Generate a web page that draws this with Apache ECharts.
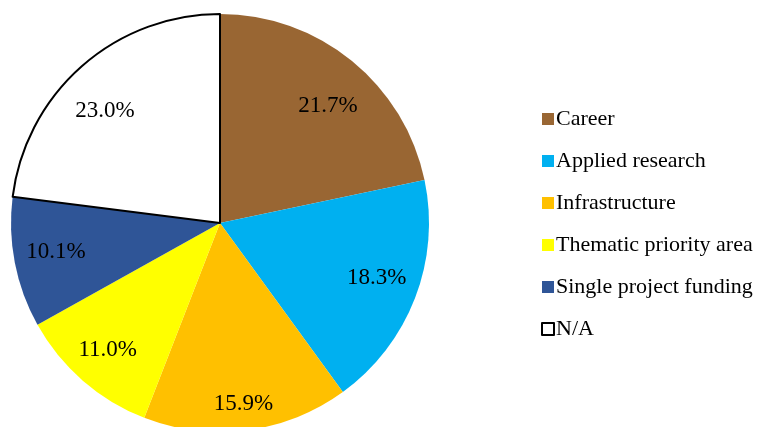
<!doctype html>
<html>
<head>
  <meta charset="utf-8">
  <script src="https://cdn.jsdelivr.net/npm/echarts@6/dist/echarts.min.js"></script>
  <style>
    html, body { margin: 0; width: 100%; height: 100%; background: #fff; }
    #main { width: 783px; height: 427px; }
  </style>
</head>
<body>
  <div id="main"></div>
  <script>
    // data
    var categories = ['Career', 'Applied research', 'Infrastructure', 'Thematic priority area', 'Single project funding', 'N/A'];
    var shares = [21.7, 18.3, 15.9, 11.0, 10.1, 23.0];
    var colors = ['#996633', '#00B0F0', '#FFC000', '#FFFF00', '#2F5597', '#FFFFFF'];
    // small nudges [dx, dy] so labels sit where the original puts them
    var labelNudge = [[2, 13], [0, -5], [2, 14], [-2, 0], [1, -3], [-4, 14]];

    var font = '"Liberation Serif", "Times New Roman", serif';

    var pieData = categories.map(function (name, i) {
      var item = { name: name, value: shares[i], itemStyle: { color: colors[i] } };
      if (name === 'N/A') {
        item.itemStyle.borderColor = '#000';
        item.itemStyle.borderWidth = 2;
      }
      return item;
    });

    // transparent copy only used to push the labels further out
    var labelData = categories.map(function (name, i) {
      return { name: name, value: shares[i] };
    });

    var chart = echarts.init(document.getElementById('main'));
    chart.setOption({
      animation: false,
      legend: {
        orient: 'vertical',
        left: 536,
        top: 103,
        icon: 'rect',
        itemWidth: 12,
        itemHeight: 12,
        itemGap: 20,
        data: categories,
        textStyle: { fontFamily: font, fontSize: 22, color: '#000', padding: [0, 0, 0, -3] }
      },
      series: [{
        type: 'pie',
        center: [220, 223],
        radius: [0, 209],
        startAngle: 90,
        clockwise: true,
        label: { show: false },
        labelLine: { show: false },
        emphasis: { disabled: true },
        itemStyle: { borderWidth: 0 },
        data: pieData
      }, {
        type: 'pie',
        center: [220, 223],
        radius: [121, 209],
        startAngle: 90,
        clockwise: true,
        silent: true,
        legendHoverLink: false,
        itemStyle: { color: 'rgba(0,0,0,0)' },
        label: {
          show: true,
          position: 'inside',
          fontFamily: font,
          fontSize: 23,
          color: '#000',
          formatter: function (p) { return p.value.toFixed(1) + '%'; }
        },
        labelLayout: function (p) {
          var n = labelNudge[p.dataIndex];
          return { dx: n[0], dy: n[1] };
        },
        labelLine: { show: false },
        emphasis: { disabled: true },
        data: labelData
      }]
    });
  </script>
</body>
</html>
